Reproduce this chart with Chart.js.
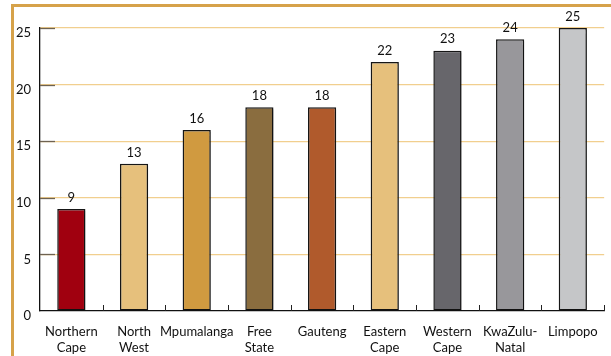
<!DOCTYPE html>
<html>
<head>
<meta charset="utf-8">
<script src="https://cdn.jsdelivr.net/npm/chart.js@4/dist/chart.umd.min.js"></script>
<style>
  html, body { margin: 0; padding: 0; background: #fff; overflow: hidden; }
  #wrap { position: relative; width: 611px; height: 356px; }
  #frame { position: absolute; left: 11px; top: 4px; width: 620px; height: 400px;
           border-top: 3px solid #d6a24a; border-left: 3px solid #d6a24a; box-sizing: border-box; }
  canvas { position: absolute; left: 0; top: 0; }
</style>
</head>
<body>
<div id="wrap">
  <div id="frame"></div>
  <canvas id="c" width="611" height="356"></canvas>
</div>
<script>
// Provinces, in ascending order of value
const categories = [
  ["Northern", "Cape"], ["North", "West"], "Mpumalanga", ["Free", "State"], "Gauteng",
  ["Eastern", "Cape"], ["Western", "Cape"], ["KwaZulu-", "Natal"], "Limpopo"
];
const values = [9, 13, 16, 18, 18, 22, 23, 24, 25];
const barColors = ["#a0000f", "#e6c07c", "#d09a40", "#8a6d3f", "#b05a2c",
                   "#e6c07c", "#67666b", "#98979b", "#c5c6c8"];
const yTicks = [0, 5, 10, 15, 20, 25];

const FONT = "Lato, 'Open Sans', sans-serif";

// Short dark stubs on the y gridlines and upward tick marks between categories
const axisMarks = {
  id: 'axisMarks',
  beforeDatasetsDraw(chart) {
    const { ctx, chartArea, scales: { x, y } } = chart;
    ctx.save();
    ctx.strokeStyle = '#6e6250';
    ctx.lineWidth = 1.3;
    yTicks.forEach(v => {
      if (v === 0) return;
      const py = Math.round(y.getPixelForValue(v)) + 0.5;
      ctx.beginPath();
      ctx.moveTo(chartArea.left, py);
      ctx.lineTo(chartArea.left + 15, py);
      ctx.stroke();
    });
    ctx.strokeStyle = '#222';
    ctx.lineWidth = 1;
    const half = (x.getPixelForValue(1) - x.getPixelForValue(0)) / 2;
    for (let i = 0; i < categories.length; i++) {
      const px = Math.round(x.getPixelForValue(i) + half) + 0.5;
      ctx.beginPath();
      ctx.moveTo(px, chartArea.bottom);
      ctx.lineTo(px, chartArea.bottom - 6);
      ctx.stroke();
    }
    ctx.restore();
  }
};

// Soft grey shadow under the bars
const barShadow = {
  id: 'barShadow',
  beforeDatasetDraw(chart) {
    const ctx = chart.ctx;
    ctx.save();
    ctx.shadowColor = 'rgba(0,0,0,0.22)';
    ctx.shadowOffsetX = 1;
    ctx.shadowOffsetY = 2;
    ctx.shadowBlur = 1;
  },
  afterDatasetDraw(chart) {
    chart.ctx.restore();
  }
};

// Value labels above each bar
const valueLabels = {
  id: 'valueLabels',
  afterDatasetsDraw(chart) {
    const { ctx } = chart;
    const meta = chart.getDatasetMeta(0);
    ctx.save();
    ctx.font = '13px ' + FONT;
    ctx.fillStyle = '#111';
    ctx.textAlign = 'center';
    ctx.textBaseline = 'bottom';
    meta.data.forEach((bar, i) => {
      ctx.fillText(String(values[i]), bar.x, bar.y - 5);
    });
    ctx.restore();
  }
};

new Chart(document.getElementById('c'), {
  type: 'bar',
  data: {
    labels: categories,
    datasets: [{
      data: values,
      backgroundColor: barColors,
      borderColor: '#161616',
      borderWidth: 1.5,
      borderSkipped: false,
      barPercentage: 0.45,
      categoryPercentage: 1.0
    }]
  },
  options: {
    responsive: false,
    animation: false,
    devicePixelRatio: 1,
    layout: { padding: { left: 0, top: 28, right: 5, bottom: 0 } },
    plugins: { legend: { display: false }, tooltip: { enabled: false } },
    scales: {
      x: {
        afterFit: s => { s.height = 45; },
        grid: { display: false, drawTicks: false },
        border: { color: '#111', width: 1.3 },
        ticks: { color: '#111', padding: 13, font: { family: FONT, size: 13 }, maxRotation: 0, autoSkip: false }
      },
      y: {
        min: 0, max: 25,
        afterFit: s => { s.width = 40; },
        afterBuildTicks: s => { s.ticks = yTicks.map(v => ({ value: v })); },
        grid: {
          drawTicks: false,
          color: ctx => ctx.tick && ctx.tick.value === 0 ? 'rgba(0,0,0,0)' : '#f1cf8e',
          lineWidth: 1.2
        },
        border: { color: '#111', width: 1.3 },
        ticks: { color: '#111', padding: 9, labelOffset: 5, font: { family: FONT, size: 13 } }
      }
    }
  },
  plugins: [axisMarks, barShadow, valueLabels]
});
</script>
</body>
</html>
